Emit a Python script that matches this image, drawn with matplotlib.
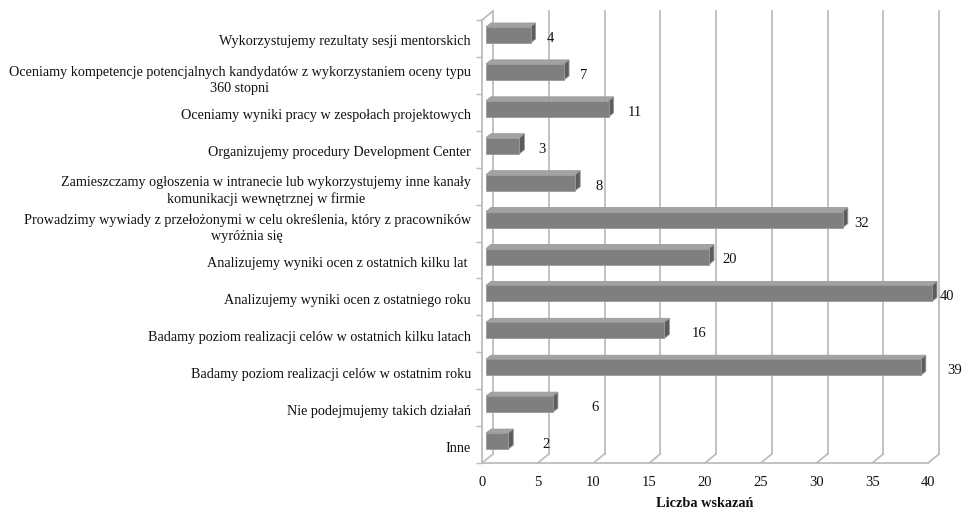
import matplotlib
matplotlib.use("Agg")
import matplotlib.pyplot as plt
from matplotlib.patches import Polygon, Rectangle

plt.rcParams['font.family'] = ['Liberation Serif', 'DejaVu Serif']

categories = [
    "Wykorzystujemy rezultaty sesji mentorskich",
    "Oceniamy kompetencje potencjalnych kandydatów z wykorzystaniem oceny typu\n360 stopni",
    "Oceniamy wyniki pracy w zespołach projektowych",
    "Organizujemy procedury Development Center",
    "Zamieszczamy ogłoszenia w intranecie lub wykorzystujemy inne kanały\nkomunikacji wewnętrznej w firmie",
    "Prowadzimy wywiady z przełożonymi w celu określenia, który z pracowników\nwyróżnia się",
    "Analizujemy wyniki ocen z ostatnich kilku lat ",
    "Analizujemy wyniki ocen z ostatniego roku",
    "Badamy poziom realizacji celów w ostatnich kilku latach",
    "Badamy poziom realizacji celów w ostatnim roku",
    "Nie podejmujemy takich działań",
    "Inne",
]
values = [4, 7, 11, 3, 8, 32, 20, 40, 16, 39, 6, 2]
xticks = [0, 5, 10, 15, 20, 25, 30, 35, 40]
xlabel = "Liczba wskazań"

# label offsets (pixels from bar front end to label centre) - styling
label_dx_px = [20, 20, 26, 22, 24, 19, 21, 15, 35, 34, 42, 38]

W, H = 965, 509
fig = plt.figure(figsize=(W / 100, H / 100), dpi=100)
ax_l, ax_b, ax_w, ax_h = 482, 46, 446, 443
ax = fig.add_axes([ax_l / W, ax_b / H, ax_w / W, ax_h / H])
n = len(categories)
ax.set_xlim(0, 40)
ax.set_ylim(n, 0)

pxx = ax_w / 40.0      # px per x unit
pxy = ax_h / n         # px per y unit

def dx(px):
    return px / pxx

def dy(px):
    # up on screen is negative in data (inverted)
    return -px / pxy

grid_c = '#bdbdbd'
DXW, DYW = 11, 9  # wall depth in px

# back wall gridlines and floor diagonals
for xv in xticks:
    ax.plot([xv + dx(DXW), xv + dx(DXW)], [n + dy(DYW), 0 + dy(DYW)],
            color=grid_c, lw=1.3, clip_on=False, zorder=1)
    ax.plot([xv, xv + dx(DXW)], [n, n + dy(DYW)],
            color=grid_c, lw=1.3, clip_on=False, zorder=1)
# top-left diagonal of side wall
ax.plot([0, dx(DXW)], [0, dy(DYW)], color=grid_c, lw=1.3, clip_on=False, zorder=1)

# bars (3D look)
front_c, top_c, side_c, edge_c = '#7f7f7f', '#a3a3a3', '#5c5c5c', '#9a9a9a'
x_off = dx(4)
bd_x, bd_y = dx(5), dy(4)
for i, v in enumerate(values):
    y0 = i + 7 / pxy
    y1 = i + 23 / pxy
    x0 = x_off
    x1 = v + x_off
    ax.add_patch(Polygon([(x0, y0), (x1, y0), (x1 + bd_x, y0 + bd_y), (x0 + bd_x, y0 + bd_y)],
                         closed=True, fc=top_c, ec=edge_c, lw=0.6, clip_on=False, zorder=3))
    ax.add_patch(Polygon([(x1, y0), (x1, y1), (x1 + bd_x, y1 + bd_y), (x1 + bd_x, y0 + bd_y)],
                         closed=True, fc=side_c, ec=edge_c, lw=0.6, clip_on=False, zorder=3))
    ax.add_patch(Rectangle((x0, y0), x1 - x0, y1 - y0, fc=front_c, ec=edge_c, lw=0.6,
                           clip_on=False, zorder=4))
    ax.text(x1 + dx(label_dx_px[i]), i + 0.5, str(v), ha='center', va='center',
            fontsize=10.5, color='#111111', zorder=5)

# axes styling
for s in ['top', 'right']:
    ax.spines[s].set_visible(False)
for s in ['left', 'bottom']:
    ax.spines[s].set_color(grid_c)
    ax.spines[s].set_linewidth(1.3)
ax.set_xticks(xticks)
ax.set_xticklabels([str(t) for t in xticks])
ax.tick_params(axis='x', length=0, pad=9, labelsize=10.5, labelcolor='#111111')
ax.set_yticks([i + 0.5 + 2 / pxy for i in range(n)])
ax.set_yticklabels(categories, multialignment='center')
ax.tick_params(axis='y', which='major', length=0, pad=8, labelsize=10.2, labelcolor='#111111')
ax.set_yticks(list(range(n + 1)), minor=True)
ax.tick_params(axis='y', which='minor', length=4, width=1, color=grid_c, direction='out')
for lbl in ax.get_yticklabels():
    lbl.set_linespacing(1.3)
ax.set_xlabel(xlabel, fontsize=10.3, fontweight='bold', labelpad=6, color='#111111')
ax.patch.set_visible(False)

fig.savefig('out.png', dpi=100)
